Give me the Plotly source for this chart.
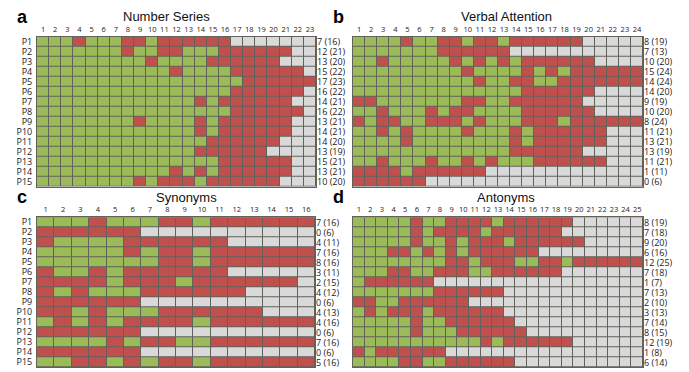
import plotly.graph_objects as go

# ---------------- data ----------------
# G = green, R = red, . = grey (not administered)
participants = ["P%d" % i for i in range(1, 16)]

number_series = [
    "GGGRGGGRRGRRRRRR.......",
    "GGGGGGGRGGRRGGGRRRRRR..",
    "GGGGGGGGGRGGGGRRRRRR...",
    "GGGGGGGGGGGRGGGGRRRRRR.",
    "GGGGGGGGGGGGGGGGGRRRRRR",
    "GGGGGGGGGGGGGGGGRRRRRR.",
    "GGGGGGGGGGGGGRGRRRRRR..",
    "GGGGGGGGGGGGGGGGRRRRRR.",
    "GGGGGGGGRGGGGRGRRRRRR..",
    "GGGGGGGGGGGGGRGRRRRRR..",
    "GGGGGGGGGGGGGGRRRRRR...",
    "GGGGGGGGGGGGGRRRRRR....",
    "GGGGGGGGGGGGGGGRRRRRR..",
    "GGGGGGGGGGGRGRGRRRRRR..",
    "GGGGGGGGRGRRRGRRRRRR...",
]

verbal_attention = [
    "GGGGRGGRRGRRGRRRRRR.....",
    "GGGGGGGRRRRRR...........",
    "GGRGGGGGRGRGRGRRRRRR....",
    "GGGGGGGGGRGGGGRGRGRRRRRR",
    "GGGGGGGGGGRGGRRGGRRRRRRR",
    "GGGGGGGGGGGGGGRRRRRR....",
    "RRGGGGGGGRRGGRRRRRR.....",
    "GGRGGGRGRRGGGGRRRRRR....",
    "RGRRGGRRRGRGGGRRRGRRRRRR",
    "GGRGRGGGGRGGGRGRRRRRR...",
    "GGGGRGGGGGGGGRGRRRRRR...",
    "GGGGGGGGGGGGGRRRRRR.....",
    "GGRGGGRGGRGRGGGRRRRRR...",
    "RRRRGRRRRRR.............",
    "RRRRRR..................",
]

synonyms = [
    "GGGRGGGRRGRRRRRR",
    "RRRRRR..........",
    "RGGGGRRRRRR.....",
    "GGGGGRGRRGRRRRRR",
    "GGGGGGGRRGRRRRRR",
    "RGGRGRRRRRR.....",
    "RRRRGRRRGRRRRRR.",
    "RGRGGGRRRRRR....",
    "RRRRRR..........",
    "RRGRGGGRRRRRR...",
    "GRGRGRRRRGRRRRRR",
    "RRRRRR..........",
    "GGGGRGRRGGRRRRRR",
    "RRRRRR..........",
    "GGRRGRGRRGRRRRRR",
]

antonyms = [
    "GGGGGRGGRRRRGRRRRRR......",
    "GGGGGRGRRRRGRRRRRR.......",
    "GGGGGRGGRGRRRGRRRRRR.....",
    "GGGRRGRGRGRRRRRR.........",
    "GGGGGGGGRRGRRRGGRRGRRRRRR",
    "GGGRRGGRRRGGRRRRRR.......",
    "GRRRRRR..................",
    "GGGGGGGRRRRRR............",
    "RRGGRRRRRR...............",
    "GRGRRRGRRRRRR............",
    "GGGGGRGGRRRRRR...........",
    "GGGGGRGGGRRRRRR..........",
    "GGGGGGGGGGGRGRRRRRR......",
    "RGRRRRRR.................",
    "GGGGRRGGRRRRRR...........",
]

panel_titles = ["Number Series", "Verbal Attention", "Synonyms", "Antonyms"]
panel_letters = ["a", "b", "c", "d"]

# ---------------- style ----------------
W, H = 689, 372
GREEN = "#9BBB59"
RED = "#C0504D"
GREY = "#D9D9D9"
LINE = "#62625a"
code = {".": 0, "G": 1, "R": 2}
cscale = [[0, GREY], [0.3333, GREY], [0.3333, GREEN], [0.6667, GREEN],
          [0.6667, RED], [1, RED]]

# pixel boxes for each grid: (left, right, top, bottom), and title centre x
boxes = [(37, 316, 35, 186), (353, 643, 35, 186),
         (37, 315, 217, 368), (353, 643, 217, 368)]
title_cx = [166, 507, 186, 506]
show_rows = [True, False, True, False]
TXT = "Open Sans, sans-serif"

fig = go.Figure()
datasets = [number_series, verbal_attention, synonyms, antonyms]

for i, data in enumerate(datasets):
    n = len(data[0])
    z = [[code[c] for c in row] for row in data]
    ax = "" if i == 0 else str(i + 1)
    fig.add_trace(go.Heatmap(
        z=z, x=list(range(1, n + 1)), y=list(range(1, 16)),
        colorscale=cscale, zmin=0, zmax=2, showscale=False,
        xgap=1, ygap=1, hoverinfo="skip",
        xaxis="x" + ax, yaxis="y" + ax))
    l, r, t, b = boxes[i]
    fig.layout["xaxis" + ax] = dict(
        domain=[l / W, r / W], anchor="y" + ax, side="top",
        range=[0.5, n + 0.5], tickmode="array",
        tickvals=list(range(1, n + 1)), ticktext=[str(k) for k in range(1, n + 1)],
        tickfont=dict(size=7.5, family=TXT, color="#222"),
        ticks="", ticklabelstandoff=1, showgrid=False, zeroline=False,
        showline=True, linecolor=LINE, linewidth=1, mirror=True, fixedrange=True)
    fig.layout["yaxis" + ax] = dict(
        domain=[1 - b / H, 1 - t / H], anchor="x" + ax,
        range=[15.5, 0.5], tickmode="array",
        tickvals=list(range(1, 16)),
        ticktext=participants if show_rows[i] else [""] * 15,
        showticklabels=show_rows[i],
        tickfont=dict(size=9, family=TXT, color="#222"),
        ticks="", ticklabelstandoff=2, showgrid=False, zeroline=False,
        showline=True, linecolor=LINE, linewidth=1, mirror=True, fixedrange=True)
    # right-hand score labels: correct (administered)
    for j, row in enumerate(data):
        score = row.count("G")
        total = n - row.count(".")
        fig.add_annotation(
            x=1, xref="x" + ax + " domain", xshift=0, xanchor="left",
            y=j + 1, yref="y" + ax, text="%d (%d)" % (score, total),
            showarrow=False, borderpad=0,
            font=dict(size=9, family=TXT, color="#222"))
    # panel title and letter
    fig.add_annotation(x=title_cx[i] / W, xref="paper", y=1 - (t - 20) / H,
                       yref="paper", text=panel_titles[i], showarrow=False,
                       xanchor="center", yanchor="middle",
                       font=dict(size=13, family="Liberation Sans, Arial", color="#111"))
    fig.add_annotation(x=(l - 15) / W, xref="paper", y=1 - (t - 20) / H,
                       yref="paper", text="<b>%s</b>" % panel_letters[i],
                       showarrow=False, xanchor="center", yanchor="middle",
                       font=dict(size=18, family="Liberation Sans, Arial", color="#000"))

fig.update_layout(width=W, height=H, margin=dict(l=0, r=0, t=0, b=0),
                  paper_bgcolor="white", plot_bgcolor=LINE, showlegend=False)

fig.write_html("out.html", config={"displayModeBar": False},
               post_script="document.body.style.margin='0';"
                           "document.body.style.overflow='hidden';")
